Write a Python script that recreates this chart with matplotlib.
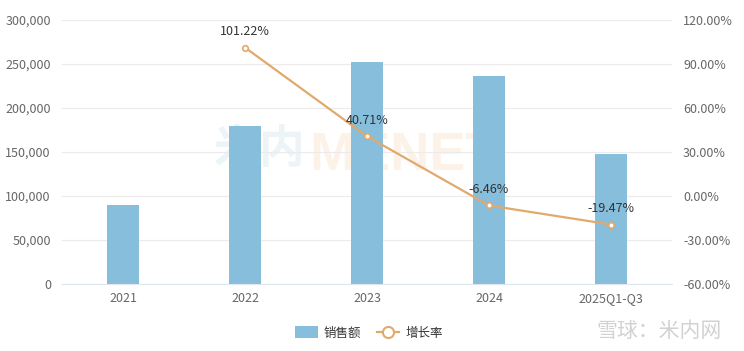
import matplotlib
matplotlib.use("Agg")
import matplotlib.pyplot as plt
from matplotlib.ticker import FuncFormatter
from matplotlib.lines import Line2D
from matplotlib.patches import Patch

plt.rcParams['font.family'] = ['Noto Sans CJK SC', 'DejaVu Sans']

categories = ["2021", "2022", "2023", "2024", "2025Q1-Q3"]
sales = [89400, 179500, 252400, 236300, 147700]
growth_cats = ["2022", "2023", "2024", "2025Q1-Q3"]
growth = [101.22, 40.71, -6.46, -19.47]
left_ticks = [0, 50000, 100000, 150000, 200000, 250000, 300000]
right_ticks = [-60, -30, 0, 30, 60, 90, 120]

bar_color = "#86bedb"
line_color = "#e2a96c"
tick_color = "#666666"

fig = plt.figure(figsize=(7.44, 3.51), dpi=100)
ax = fig.add_axes([62/744, 67/351, 610/744, 264/351])
ax2 = ax.twinx()

# watermark behind bars
wy = 1 - 150/351
ax.text(306/744, wy, "米内", transform=fig.transFigure, fontsize=33, color='#edf4f8',
        ha='right', va='center', fontweight='bold', zorder=0.5)
ax.text(309/744, 1 - 156/351, "MENET", transform=fig.transFigure, fontsize=39, color='#fdf2e8',
        ha='left', va='center', fontweight='bold', family='Liberation Sans', zorder=0.5)

x = list(range(len(categories)))
ax.bar(x, sales, width=0.26, color=bar_color, zorder=2)
ax.set_xlim(-0.5, len(categories) - 0.5)
ax.set_ylim(0, 300000)
ax.set_yticks(left_ticks)
ax.yaxis.set_major_formatter(FuncFormatter(lambda v, p: f"{int(v):,}"))
ax.set_xticks(x)
ax.set_xticklabels(categories)
ax.grid(axis='y', color='#ebebeb', linewidth=0.8, zorder=1)
for s in ['top', 'right', 'left']:
    ax.spines[s].set_visible(False)
ax.spines['bottom'].set_color('#e0e6ee')
ax.tick_params(axis='both', length=0, colors=tick_color, labelsize=9)
ax.tick_params(axis='x', pad=6)
ax.tick_params(axis='y', pad=8)

gx = [categories.index(c) for c in growth_cats]
ax2.plot(gx, growth, color=line_color, linewidth=1.6, marker='o', markersize=4,
         markerfacecolor='white', markeredgecolor=line_color, markeredgewidth=1.2, zorder=3)
ax2.set_ylim(-60, 120)
ax2.set_yticks(right_ticks)
ax2.yaxis.set_major_formatter(FuncFormatter(lambda v, p: f"{v:.2f}%"))
for s in ['top', 'right', 'left', 'bottom']:
    ax2.spines[s].set_visible(False)
ax2.tick_params(axis='y', length=0, colors=tick_color, labelsize=9, pad=8)
for xi, g in zip(gx, growth):
    ax2.annotate(f"{g:.2f}%", (xi, g), xytext=(0, 7), textcoords='offset points',
                 ha='center', va='bottom', fontsize=9, color='#333333', zorder=4)

fig.text(722/744, 1 - 331/351, "雪球：米内网", fontsize=15, color='#d2d2d2', ha='right', va='center')

handles = [Patch(facecolor=bar_color, edgecolor='none'),
           Line2D([0], [0], color=line_color, linewidth=1.6, marker='o', markersize=8,
                  markerfacecolor='white', markeredgecolor=line_color, markeredgewidth=1.5)]
fig.legend(handles, ["销售额", "增长率"], loc='center', bbox_to_anchor=(369/744, 1 - 333/351),
           ncol=2, frameon=False, fontsize=9, handlelength=1.8, handleheight=1.1,
           columnspacing=1.2, handletextpad=0.5, labelcolor='#333333')

fig.savefig("out.png", dpi=100)
